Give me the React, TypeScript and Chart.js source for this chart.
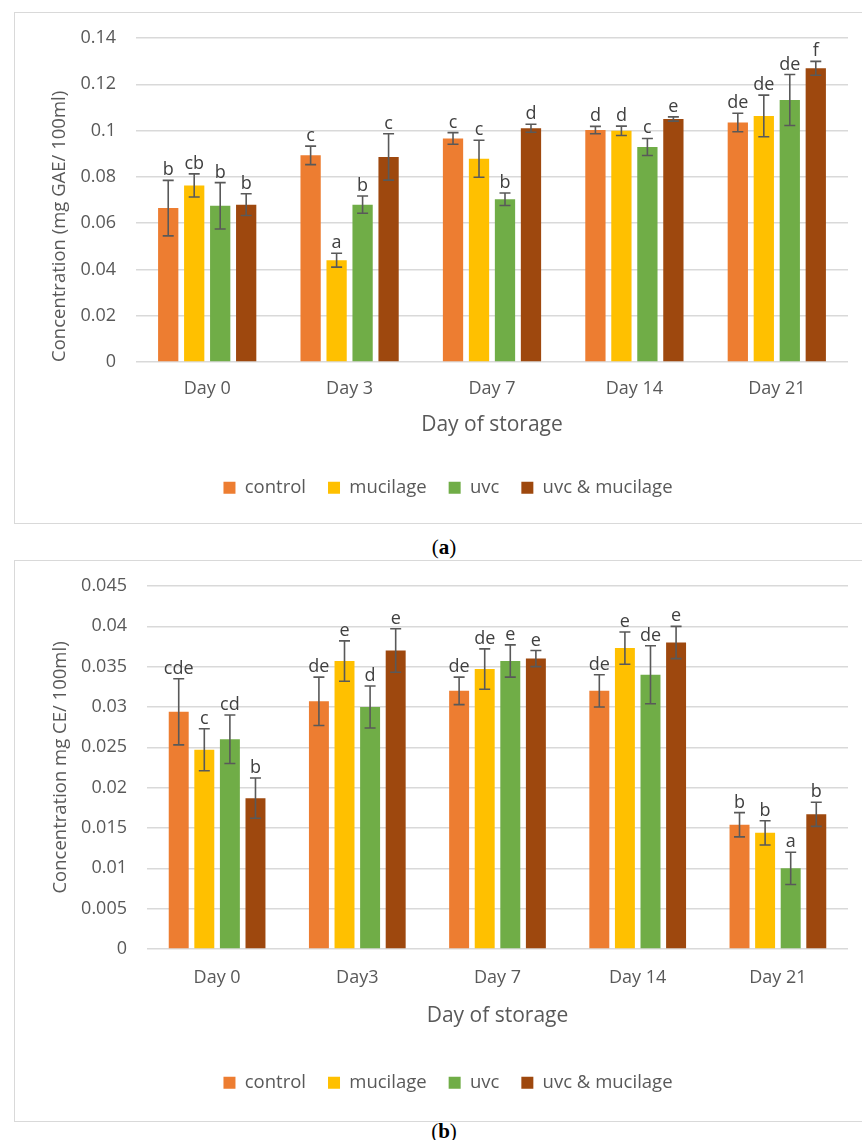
import React, { useEffect, useRef } from "react";
import { Chart, registerables } from "chart.js";

Chart.register(...registerables);

// ---------- shared ----------
const seriesNames = ["control", "mucilage", "uvc", "uvc & mucilage"];
const seriesColors = ["#ED7D31", "#FFC000", "#70AD47", "#9E480E"];

// ---------- chart (a) ----------
const daysA = ["Day 0", "Day 3", "Day 7", "Day 14", "Day 21"];
const controlA = [0.0665, 0.0893, 0.0966, 0.1002, 0.1035];
const mucilageA = [0.0763, 0.044, 0.0878, 0.0999, 0.1063];
const uvcA = [0.0675, 0.068, 0.0703, 0.0929, 0.1132];
const uvcMucA = [0.068, 0.0886, 0.101, 0.105, 0.1269];
const controlErrA = [0.012, 0.004, 0.0025, 0.0016, 0.004];
const mucilageErrA = [0.005, 0.003, 0.008, 0.002, 0.009];
const uvcErrA = [0.01, 0.0037, 0.0027, 0.0037, 0.011];
const uvcMucErrA = [0.0047, 0.01, 0.0017, 0.0009, 0.003];
const controlLetA = ["b", "c", "c", "d", "de"];
const mucilageLetA = ["cb", "a", "c", "d", "de"];
const uvcLetA = ["b", "b", "b", "c", "de"];
const uvcMucLetA = ["b", "c", "d", "e", "f"];
const yTicksA = ["0", "0.02", "0.04", "0.06", "0.08", "0.1", "0.12", "0.14"];

// ---------- chart (b) ----------
const daysB = ["Day 0", "Day3", "Day 7", "Day 14", "Day 21"];
const controlB = [0.0294, 0.0307, 0.032, 0.032, 0.0154];
const mucilageB = [0.0247, 0.0357, 0.0347, 0.0373, 0.0144];
const uvcB = [0.026, 0.03, 0.0357, 0.034, 0.01];
const uvcMucB = [0.0187, 0.037, 0.036, 0.038, 0.0167];
const controlErrB = [0.0041, 0.003, 0.0017, 0.002, 0.0015];
const mucilageErrB = [0.0026, 0.0025, 0.0025, 0.002, 0.0015];
const uvcErrB = [0.003, 0.0026, 0.002, 0.0036, 0.002];
const uvcMucErrB = [0.0025, 0.0027, 0.001, 0.002, 0.0015];
const controlLetB = ["cde", "de", "de", "de", "b"];
const mucilageLetB = ["c", "e", "de", "e", "b"];
const uvcLetB = ["cd", "d", "e", "de", "a"];
const uvcMucLetB = ["b", "e", "e", "e", "b"];
const yTicksB = ["0", "0.005", "0.01", "0.015", "0.02", "0.025", "0.03", "0.035", "0.04", "0.045"];

const FONT = '"Open Sans", sans-serif';
const GREY = "#595959";

function makeErrorPlugin(errors: number[][], letters: string[][]) {
  return {
    id: "errorLetters",
    afterDatasetsDraw(chart: any) {
      const ctx = chart.ctx;
      const ys = chart.scales.y;
      chart.data.datasets.forEach((ds: any, i: number) => {
        const meta = chart.getDatasetMeta(i);
        meta.data.forEach((bar: any, j: number) => {
          const v = ds.data[j] as number;
          const e = errors[i][j];
          const yt = ys.getPixelForValue(v + e);
          const yb = ys.getPixelForValue(v - e);
          const x = bar.x;
          ctx.save();
          ctx.strokeStyle = GREY;
          ctx.lineWidth = 1.6;
          ctx.beginPath();
          ctx.moveTo(x, yt);
          ctx.lineTo(x, yb);
          ctx.moveTo(x - 5.5, yt);
          ctx.lineTo(x + 5.5, yt);
          ctx.moveTo(x - 5.5, yb);
          ctx.lineTo(x + 5.5, yb);
          ctx.stroke();
          ctx.fillStyle = "#404040";
          ctx.font = '18px "Open Sans", sans-serif';
          ctx.textAlign = "center";
          ctx.textBaseline = "alphabetic";
          ctx.fillText(letters[i][j], x, yt - 5);
          ctx.restore();
        });
      });
    },
  };
}

// moves the legend row sideways so it sits where the reference has it
function makeLegendShift(shift: number) {
  return {
    id: "legendShift",
    afterLayout(chart: any) {
      if (chart.legend) {
        chart.legend.left += shift;
        chart.legend.right += shift;
      }
    },
  };
}

type PanelProps = {
  labels: string[];
  series: number[][];
  errors: number[][];
  letters: string[][];
  yMax: number;
  yStep: number;
  yTicks: string[];
  yTitle: string;
  yTitleAlign: "start" | "center";
  yWidth: number;
  yTitlePad: number;
  xHeight: number;
  xTickPad: number;
  xTitlePad: number;
  topPad: number;
  legendShift: number;
  width: number;
  height: number;
};

function Panel(p: PanelProps) {
  const ref = useRef<HTMLCanvasElement | null>(null);
  useEffect(() => {
    if (!ref.current) return;
    const chart = new Chart(ref.current, {
      type: "bar",
      data: {
        labels: p.labels,
        datasets: p.series.map((d, i) => ({
          label: seriesNames[i],
          data: d,
          backgroundColor: seriesColors[i],
          borderWidth: 0,
          categoryPercentage: 0.73,
          barPercentage: 0.78,
        })),
      },
      options: {
        responsive: false,
        animation: false,
        devicePixelRatio: 1,
        layout: { padding: { top: p.topPad, right: 14, left: 0, bottom: 0 } },
        plugins: {
          tooltip: { enabled: false },
          legend: {
            position: "bottom",
            labels: {
              boxWidth: 12,
              boxHeight: 12,
              padding: 22,
              color: GREY,
              font: { family: FONT, size: 18.5 },
            },
          },
        },
        scales: {
          x: {
            grid: { display: false, drawTicks: false },
            border: { display: false },
            ticks: { color: GREY, font: { family: FONT, size: 18 }, padding: p.xTickPad },
            title: {
              display: true,
              text: "Day of storage",
              color: GREY,
              font: { family: FONT, size: 21 },
              padding: { top: 4, bottom: p.xTitlePad },
            },
            afterFit: (s: any) => {
              s.height = p.xHeight;
            },
          },
          y: {
            min: 0,
            max: p.yMax,
            grid: {
              color: "#d9d9d9",
              lineWidth: 1.5,
              drawTicks: true,
              tickLength: 6,
              tickColor: "rgba(0,0,0,0)",
            },
            border: { display: false },
            ticks: {
              stepSize: p.yStep,
              color: GREY,
              font: { family: FONT, size: 18 },
              padding: 14,
              callback: (v: any, i: number) =>
                p.yTicks[i] !== undefined ? p.yTicks[i] : String(parseFloat(Number(v).toFixed(4))),
            },
            title: {
              display: true,
              text: p.yTitle,
              align: p.yTitleAlign,
              color: GREY,
              font: { family: FONT, size: 18.5 },
              padding: { top: p.yTitlePad, bottom: 0 },
            },
            afterFit: (s: any) => {
              s.width = p.yWidth;
            },
          },
        },
      },
      plugins: [makeErrorPlugin(p.errors, p.letters), makeLegendShift(p.legendShift)],
    } as any);
    return () => chart.destroy();
  }, []);
  return (
    <canvas
      ref={ref}
      width={p.width}
      height={p.height}
      style={{ width: p.width, height: p.height, display: "block" }}
    />
  );
}

export default function App() {
  const box = (top: number, height: number): React.CSSProperties => ({
    position: "absolute",
    left: 14,
    top,
    width: 870,
    height,
    border: "1.5px solid #d9d9d9",
    boxSizing: "border-box",
  });
  const cap: React.CSSProperties = {
    position: "absolute",
    left: 0,
    width: 888,
    textAlign: "center",
    fontFamily: '"Liberation Serif", serif',
    fontSize: 21,
    color: "#000",
    lineHeight: "24px",
  };
  return (
    <div
      style={{
        position: "absolute",
        left: 0,
        top: 0,
        width: 862,
        height: 1140,
        overflow: "hidden",
        background: "#fff",
      }}
    >
      <div style={box(12, 512)} />
      <div style={{ position: "absolute", left: 14, top: 12 }}>
        <Panel
          labels={daysA}
          series={[controlA, mucilageA, uvcA, uvcMucA]}
          errors={[controlErrA, mucilageErrA, uvcErrA, uvcMucErrA]}
          letters={[controlLetA, mucilageLetA, uvcLetA, uvcMucLetA]}
          yMax={0.14}
          yStep={0.02}
          yTicks={yTicksA}
          yTitle="Concentration (mg GAE/ 100ml)"
          yTitleAlign="start"
          yWidth={122}
          yTitlePad={35}
          xHeight={94.5}
          xTickPad={16}
          xTitlePad={19}
          topPad={26}
          legendShift={17}
          width={848}
          height={495}
        />
      </div>
      <div style={{ ...cap, top: 535 }}>
        (<b>a</b>)
      </div>

      <div style={box(560, 562)} />
      <div style={{ position: "absolute", left: 14, top: 560 }}>
        <Panel
          labels={daysB}
          series={[controlB, mucilageB, uvcB, uvcMucB]}
          errors={[controlErrB, mucilageErrB, uvcErrB, uvcMucErrB]}
          letters={[controlLetB, mucilageLetB, uvcLetB, uvcMucLetB]}
          yMax={0.045}
          yStep={0.005}
          yTicks={yTicksB}
          yTitle="Concentration mg CE/ 100ml)"
          yTitleAlign="center"
          yWidth={133}
          yTitlePad={36}
          xHeight={102.5}
          xTickPad={18}
          xTitlePad={23}
          topPad={26}
          legendShift={17}
          width={848}
          height={542}
        />
      </div>
      <div style={{ ...cap, top: 1119 }}>
        (<b>b</b>)
      </div>
    </div>
  );
}
